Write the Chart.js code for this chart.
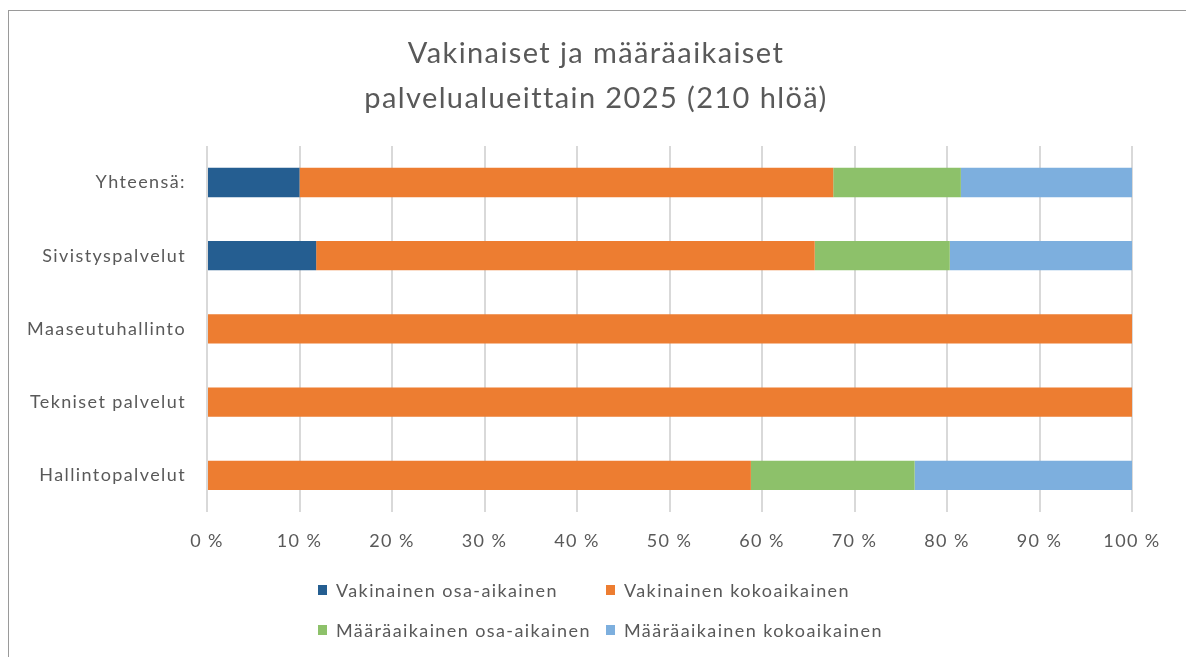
<!DOCTYPE html>
<html lang="fi">
<head>
<meta charset="utf-8">
<title>Vakinaiset ja määräaikaiset palvelualueittain 2025</title>
<script src="https://cdn.jsdelivr.net/npm/chart.js@4.4.1/dist/chart.umd.min.js"></script>
<style>
  html, body { margin: 0; padding: 0; background: #fff; }
  body { width: 1186px; height: 657px; overflow: hidden; position: relative; font-family: Lato, "Open Sans", sans-serif; }
  #frame { position: absolute; left: 8px; top: 10px; width: 1200px; height: 700px; border: 1px solid #9a9a9a; box-sizing: border-box; }
  #wrap { position: absolute; left: 0; top: 0; width: 1186px; height: 657px; }
  #legend { position: absolute; left: 318px; top: 570px; display: grid; grid-template-columns: 288px auto; }
  .item { display: flex; align-items: center; height: 40px; font-size: 18px; letter-spacing: 1.4px; color: #595959; white-space: nowrap; }
  .box { width: 9px; height: 10px; margin-right: 9px; }
</style>
</head>
<body>
<div id="frame"></div>
<div id="wrap"><canvas id="chart"></canvas></div>
<div id="legend"></div>
<script>
const categories = ["Yhteensä:", "Sivistyspalvelut", "Maaseutuhallinto", "Tekniset palvelut", "Hallintopalvelut"];

// osuudet prosentteina, luettu kuvasta
const vakOsa = [10.0, 11.8, 0, 0, 0];
const vakKoko = [57.7, 53.9, 100, 100, 58.8];
const maaOsa = [13.8, 14.6, 0, 0, 17.7];
const maaKoko = [18.5, 19.7, 0, 0, 23.5];

const seriesNames = ["Vakinainen osa-aikainen", "Vakinainen kokoaikainen", "Määräaikainen osa-aikainen", "Määräaikainen kokoaikainen"];
const seriesColors = ["#255E91", "#ED7D31", "#8DC16A", "#7DAFDE"];
const xTicks = [0, 10, 20, 30, 40, 50, 60, 70, 80, 90, 100];

const textColor = "#595959";
const fontFamily = "Lato, 'Open Sans', sans-serif";

// Excel-tyylinen väljempi kirjainväli, otsikko keskelle koko kehystä
const tweaksPlugin = {
  id: "tweaks",
  afterLayout(chart) {
    if (chart.titleBlock) {
      chart.titleBlock.left = 60;
      chart.titleBlock.right = 1132;
    }
  },
  beforeDraw(chart) {
    chart.ctx.letterSpacing = "1.4px";
  },
};

function renderLegend() {
  const legendEl = document.getElementById("legend");
  seriesNames.forEach((name, i) => {
    const item = document.createElement("div");
    item.className = "item";
    const box = document.createElement("span");
    box.className = "box";
    box.style.background = seriesColors[i];
    item.appendChild(box);
    item.appendChild(document.createTextNode(name));
    legendEl.appendChild(item);
  });
}

function renderChart() {
  const ctx = document.getElementById("chart");
  const values = [vakOsa, vakKoko, maaOsa, maaKoko];
  new Chart(ctx, {
    type: "bar",
    data: {
      labels: categories,
      datasets: seriesNames.map((name, i) => ({
        label: name,
        data: values[i],
        backgroundColor: seriesColors[i],
        borderWidth: 0,
        categoryPercentage: 1,
        barPercentage: 0.4,
      })),
    },
    plugins: [tweaksPlugin],
    options: {
      indexAxis: "y",
      responsive: true,
      maintainAspectRatio: false,
      animation: false,
      layout: { padding: { top: 10, right: 54, bottom: 0, left: 0 } },
      plugins: {
        legend: { display: false },
        tooltip: { enabled: false },
        title: {
          display: true,
          text: ["Vakinaiset ja määräaikaiset", "palvelualueittain 2025 (210 hlöä)"],
          color: textColor,
          font: { family: fontFamily, size: 29, weight: "normal", lineHeight: 1.55 },
          padding: { top: 21, bottom: 25 },
        },
      },
      scales: {
        x: {
          stacked: true,
          min: 0,
          max: 100,
          afterBuildTicks: (scale) => {
            scale.ticks = xTicks.map((v) => ({ value: v }));
          },
          afterFit: (scale) => {
            scale.height = 145;
          },
          grid: { color: "#d9d9d9", lineWidth: 2, drawTicks: false },
          border: { display: false },
          ticks: {
            color: textColor,
            font: { family: fontFamily, size: 18 },
            padding: 18,
            maxRotation: 0,
            autoSkip: false,
            callback: (v) => v + " %",
          },
        },
        y: {
          stacked: true,
          afterFit: (scale) => {
            scale.width = 207;
          },
          grid: { display: false, drawTicks: false },
          border: { display: false },
          ticks: {
            color: textColor,
            font: { family: fontFamily, size: 18 },
            padding: 21,
          },
        },
      },
    },
  });
}

renderLegend();
renderChart();
</script>
</body>
</html>
